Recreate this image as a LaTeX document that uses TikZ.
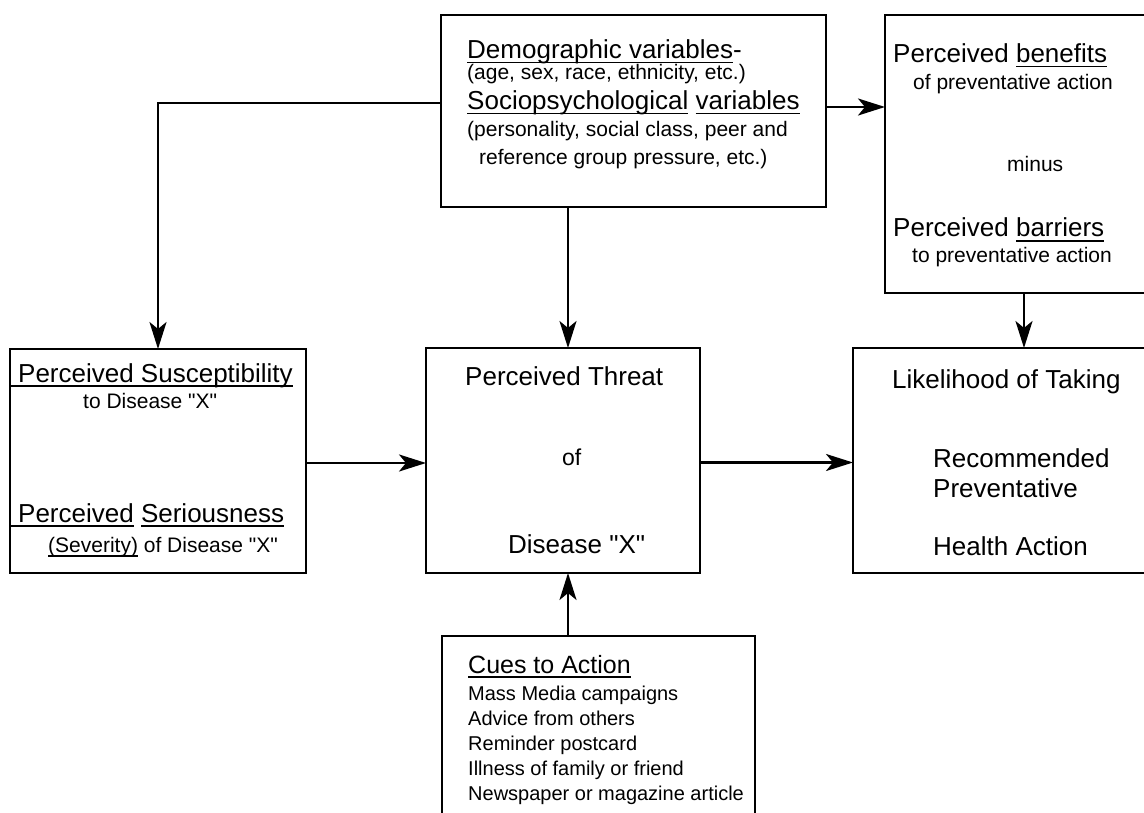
\documentclass[tikz,border=0pt]{standalone}
\usepackage{fontspec}
\setmainfont{Liberation Sans}
\usetikzlibrary{arrows.meta,calc}
\newcommand\myul[1]{\setbox0\hbox{#1}\rlap{\rule[-4.5pt]{\wd0}{1.8pt}}\box0\relax}
\newcommand\qX{\textquotedbl X\textquotedbl}
\tikzset{
 box/.style={draw, line width=2.6pt, rectangle, inner sep=0pt, outer sep=0pt, anchor=north west},
 big/.style={font=\fontsize{26}{30}\selectfont, inner sep=0pt, anchor=base west},
 mid/.style={font=\fontsize{23}{27}\selectfont, inner sep=0pt, anchor=base west},
 small/.style={font=\fontsize{21}{25}\selectfont, inner sep=0pt, anchor=base west},
 cue/.style={font=\fontsize{20}{24}\selectfont, inner sep=0pt, anchor=base west},
 cuehead/.style={font=\fontsize{25}{29}\selectfont, inner sep=0pt, anchor=base west},
 arr/.style={line width=2.6pt, -{Stealth[length=27pt,width=17pt,inset=7pt]}},
}
\begin{document}
\begin{tikzpicture}[x=1pt,y=-1pt]
\useasboundingbox (0,0) rectangle (1144,813);
\fill[white] (0,0) rectangle (1144,813);
\clip (0,0) rectangle (1144,813);
% boxes
\node[box, minimum width=385pt, minimum height=192pt] (demo) at (441,15) {};
\node[box, minimum width=275pt, minimum height=278pt] (benefits) at (885,15) {};
\node[box, minimum width=296pt, minimum height=224pt] (susc) at (10,349) {};
\node[box, minimum width=274pt, minimum height=225pt] (threat) at (426,348) {};
\node[box, minimum width=307pt, minimum height=225pt] (action) at (853,348) {};
\node[box, minimum width=313pt, minimum height=200pt] (cues) at (442,636) {};
% top centre text
\node[big] (t1) at (467,59) {\myul{Demographic variables}-};
\node[small] (t2) at (467,80) {(age, sex, race, ethnicity, etc.)};
\node[big] (t3) at (467,110) {\myul{Sociopsychological} \myul{variables}};
\node[small] (t4) at (467,137) {(personality, social class, peer and};
\node[small] (t5) at (479,165) {reference group pressure, etc.)};
% top right text
\node[big] (b1) at (893,63) {Perceived \myul{benefits}};
\node[small] (b2) at (913,90) {of preventative action};
\node[small] (b3) at (1007,172) {minus};
\node[big] (b4) at (893,237) {Perceived \myul{barriers}};
\node[small] (b5) at (912,263) {to preventative action};
% left text
\node[big] (s1) at (10,382) {\myul{\kern8pt Perceived Susceptibility}};
\node[small] (s2) at (83,408) {to Disease \qX};
\node[big] (s3) at (10,522) {\myul{\kern8pt Perceived} \myul{Seriousness}};
\node[small] (s4) at (48,552) {\myul{(Severity)} of Disease \qX};
% centre text
\node[big] (p1) at (465,385) {Perceived Threat};
\node[mid] (p2) at (562,465) {of};
\node[big] (p3) at (508,553) {Disease \qX};
% right text
\node[big] (l1) at (892,388) {Likelihood of Taking};
\node[big] (l2) at (933,467) {Recommended};
\node[big] (l3) at (933,497) {Preventative};
\node[big] (l4) at (933,555) {Health Action};
% cues text
\node[cuehead] (c0) at (468,673) {\myul{Cues to Action}};
\node[cue] (c1) at (468,700) {Mass Media campaigns};
\node[cue] (c2) at (468,725) {Advice from others};
\node[cue] (c3) at (468,750) {Reminder postcard};
\node[cue] (c4) at (468,775) {Illness of family or friend};
\node[cue] (c5) at (468,800) {Newspaper or magazine article};
% connectors
\draw[arr] ([yshift=8pt]demo.west) -| (susc.north);
\draw[arr] ([xshift=-65.5pt]demo.south) -- ([xshift=-65.5pt]demo.south |- threat.north);
\draw[arr] ([yshift=4pt]demo.east) -- ([yshift=4pt]demo.east -| benefits.west);
\draw[arr] ([xshift=1.5pt]benefits.south) -- ([xshift=1.5pt]benefits.south |- action.north);
\draw[arr] ([yshift=-2pt]susc.east) -- ([yshift=-2pt]susc.east -| threat.west);
\draw[arr] ([yshift=-2pt]threat.east) -- ([yshift=-2pt]threat.east -| action.west);
\draw[arr] ([xshift=5pt]threat.south |- cues.north) -- ([xshift=5pt]threat.south);
\end{tikzpicture}
\end{document}
